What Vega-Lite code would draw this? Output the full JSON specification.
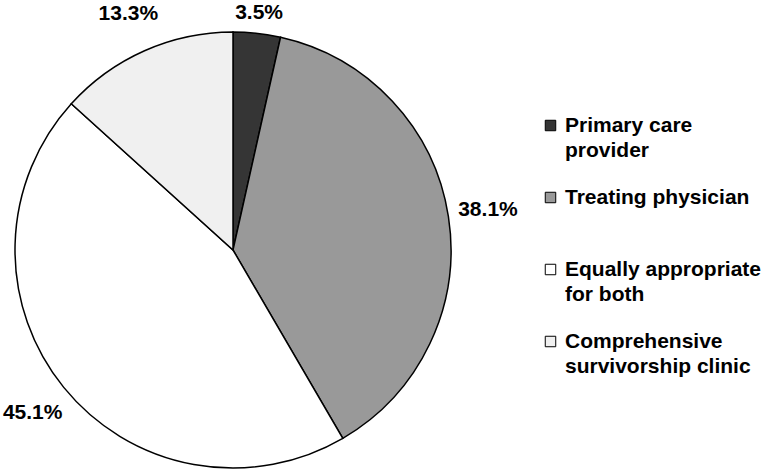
{
  "$schema": "https://vega.github.io/schema/vega-lite/v6.json",
  "width": 444,
  "height": 444,
  "autosize": "none",
  "padding": {"left": 11, "top": 28, "right": 310, "bottom": 0},
  "background": "white",
  "config": {"view": {"stroke": null}},
  "data": {
    "values": [
      {"category": "Primary care provider", "pct": 3.5, "label": "3.5%", "order": 1},
      {"category": "Treating physician", "pct": 38.1, "label": "38.1%", "order": 2},
      {"category": "Equally appropriate for both", "pct": 45.1, "label": "45.1%", "order": 3},
      {"category": "Comprehensive survivorship clinic", "pct": 13.3, "label": "13.3%", "order": 4}
    ]
  },
  "layer": [
    {
      "mark": {"type": "arc", "outerRadius": 218, "stroke": "black", "strokeWidth": 1.5},
      "encoding": {
        "theta": {"field": "pct", "type": "quantitative", "stack": true},
        "order": {"field": "order", "type": "quantitative"},
        "color": {
          "field": "category",
          "type": "nominal",
          "scale": {
            "domain": ["Primary care provider", "Treating physician", "Equally appropriate for both", "Comprehensive survivorship clinic"],
            "range": ["#353535", "#999999", "#ffffff", "#f0f0f0"]
          },
          "legend": {
            "title": null,
            "orient": "none",
            "direction": "vertical",
            "columns": 1,
            "gridAlign": "all",
            "legendX": 529,
            "legendY": 87,
            "symbolType": "square",
            "symbolSize": 110,
            "symbolStrokeColor": "black",
            "symbolStrokeWidth": 1,
            "labelFont": "Liberation Sans",
            "labelFontWeight": "bold",
            "labelFontSize": 21,
            "labelColor": "black",
            "labelLimit": 0,
            "labelOffset": 4,
            "rowPadding": 25,
            "labelExpr": "datum.label == 'Primary care provider' ? ['Primary care', 'provider'] : datum.label == 'Equally appropriate for both' ? ['Equally appropriate', 'for both'] : datum.label == 'Comprehensive survivorship clinic' ? ['Comprehensive', 'survivorship clinic'] : datum.label",
            "encode": {"labels": {"update": {"lineHeight": {"value": 25}}}}
          }
        }
      }
    },
    {
      "mark": {"type": "text", "radius": {"expr": "datum.pct < 5 ? 238 : 258"}, "font": "Liberation Sans", "fontWeight": "bold", "fontSize": 21, "color": "black"},
      "encoding": {
        "theta": {"field": "pct", "type": "quantitative", "stack": true},
        "order": {"field": "order", "type": "quantitative"},
        "text": {"field": "label", "type": "nominal"}
      }
    }
  ]
}
